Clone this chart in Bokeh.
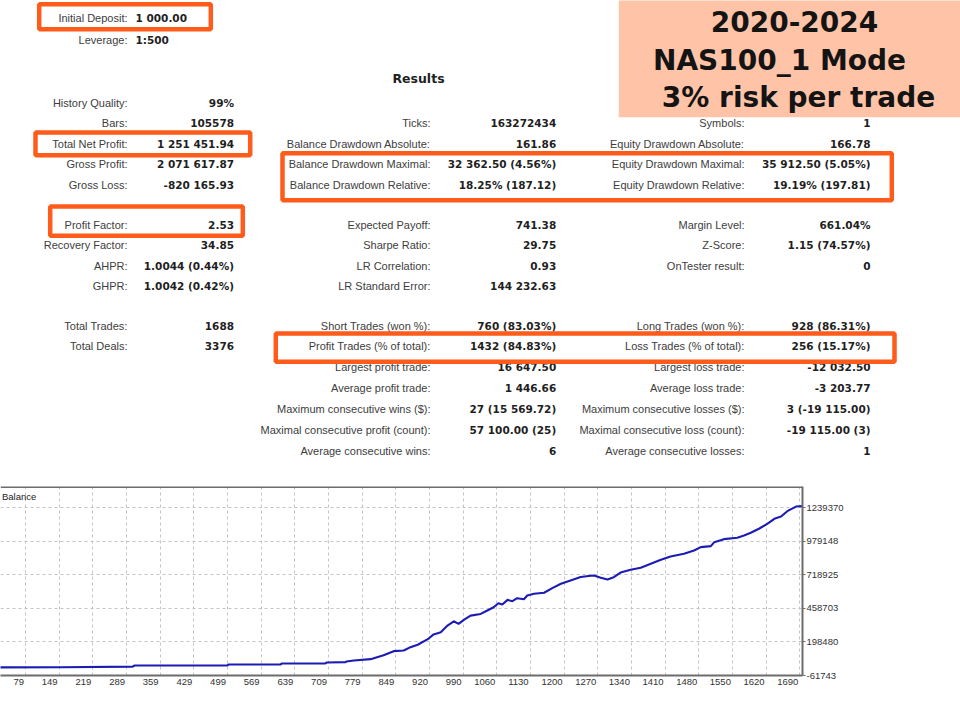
from bokeh.plotting import figure
from bokeh.layouts import column
from bokeh.models import Range1d, FixedTicker, Label, Span
from bokeh.core.properties import value
from bokeh.embed import file_html
from bokeh.resources import INLINE

# ---------------- data ----------------
title_lines = ["2020-2024", "NAS100_1 Mode", "3% risk per trade"]

header_labels = ["Initial Deposit:", "Leverage:"]
header_values = ["1 000.00", "1:500"]

results_title = "Results"

c1a_labels = ["History Quality:", "Bars:", "Total Net Profit:", "Gross Profit:", "Gross Loss:"]
c1a_values = ["99%", "105578", "1 251 451.94", "2 071 617.87", "-820 165.93"]
c2a_labels = ["Ticks:", "Balance Drawdown Absolute:", "Balance Drawdown Maximal:", "Balance Drawdown Relative:"]
c2a_values = ["163272434", "161.86", "32 362.50 (4.56%)", "18.25% (187.12)"]
c3a_labels = ["Symbols:", "Equity Drawdown Absolute:", "Equity Drawdown Maximal:", "Equity Drawdown Relative:"]
c3a_values = ["1", "166.78", "35 912.50 (5.05%)", "19.19% (197.81)"]

c1b_labels = ["Profit Factor:", "Recovery Factor:", "AHPR:", "GHPR:"]
c1b_values = ["2.53", "34.85", "1.0044 (0.44%)", "1.0042 (0.42%)"]
c2b_labels = ["Expected Payoff:", "Sharpe Ratio:", "LR Correlation:", "LR Standard Error:"]
c2b_values = ["741.38", "29.75", "0.93", "144 232.63"]
c3b_labels = ["Margin Level:", "Z-Score:", "OnTester result:"]
c3b_values = ["661.04%", "1.15 (74.57%)", "0"]

c1c_labels = ["Total Trades:", "Total Deals:"]
c1c_values = ["1688", "3376"]
c2c_labels = ["Short Trades (won %):", "Profit Trades (% of total):", "Largest profit trade:",
              "Average profit trade:", "Maximum consecutive wins ($):",
              "Maximal consecutive profit (count):", "Average consecutive wins:"]
c2c_values = ["760 (83.03%)", "1432 (84.83%)", "16 647.50", "1 446.66", "27 (15 569.72)",
              "57 100.00 (25)", "6"]
c3c_labels = ["Long Trades (won %):", "Loss Trades (% of total):", "Largest loss trade:",
              "Average loss trade:", "Maximum consecutive losses ($):",
              "Maximal consecutive loss (count):", "Average consecutive losses:"]
c3c_values = ["928 (86.31%)", "256 (15.17%)", "-12 032.50", "-3 203.77", "3 (-19 115.00)",
              "-19 115.00 (3)", "1"]

# balance curve (trade number, balance)
trade_no = [0, 152, 302, 306, 499, 502, 610, 612, 703, 706, 745, 747, 762, 797, 824, 845, 866,
            880, 895, 916, 928, 943, 957, 970, 980, 991, 1005, 1026, 1040, 1053, 1063, 1071,
            1082, 1092, 1102, 1116, 1123, 1137, 1158, 1175, 1193, 1213, 1234, 1255, 1262, 1276,
            1290, 1303, 1317, 1338, 1359, 1380, 1401, 1421, 1449, 1470, 1484, 1505, 1512, 1532,
            1560, 1574, 1588, 1605, 1623, 1637, 1651, 1664, 1682, 1696]
balance = [1000, 2500, 7000, 16000, 16500, 23600, 24500, 31400, 32000, 39100, 42000, 46900,
           54600, 65000, 96000, 127000, 132000, 158000, 177000, 220000, 257000, 274000, 326000,
           359000, 339000, 370000, 403000, 416000, 443000, 468000, 499000, 489000, 525000,
           515000, 538000, 530000, 559000, 572000, 580000, 616000, 650000, 676000, 702000,
           712000, 714000, 696000, 683000, 701000, 737000, 758000, 774000, 805000, 836000,
           862000, 883000, 908000, 934000, 942000, 973000, 996000, 1007000, 1025000, 1046000,
           1077000, 1116000, 1154000, 1172000, 1213000, 1249000, 1252452]

x_tick_labels = ["79", "149", "219", "289", "359", "429", "499", "569", "639", "709", "779",
                 "849", "920", "990", "1060", "1130", "1200", "1270", "1340", "1410", "1480",
                 "1550", "1620", "1690"]
y_tick_values = [-61743, 198480, 458703, 718925, 979148, 1239370]

# ---------------- styles ----------------
LABEL_FONT_NAME = "Liberation Sans"
VALUE_FONT_NAME = "DejaVu Sans"
LABEL_FONT = value(LABEL_FONT_NAME)
VALUE_FONT = value(VALUE_FONT_NAME)
LABEL_COLOR = "#3d3d3d"
VALUE_COLOR = "#1f1f1f"
ORANGE = "#ff5b1a"
FRAME_GRAY = "#6c6c6c"

# ---------------- top (report) figure ----------------
top = figure(frame_width=960, frame_height=480, x_range=Range1d(0, 960), y_range=Range1d(480, 0),
             x_axis_location=None, y_axis_location=None, toolbar_location=None,
             output_backend="svg", min_border=0)
top.grid.visible = False
top.outline_line_color = None
top.background_fill_color = "white"
top.border_fill_color = "white"

# title box
top.quad(left=[618.3], right=[970], top=[-5], bottom=[116.7], fill_color="#ffc4a7", line_color=None)
top.text(x=[794, 779, 798], y=[21, 60, 97], text=title_lines, text_font=VALUE_FONT,
         text_font_style="bold", text_font_size=value("28px"), text_align="center",
         text_baseline="middle", text_color="#141414")

lx = [127, 430, 744]
vx = [233.5, 555.7, 870]

labels_x, labels_y, labels_t = [], [], []
values_x, values_y, values_t = [], [], []

def add_block(cols, y0, dy, offsets):
    for ci, (labs, vals) in enumerate(cols):
        for i, (lab, val) in enumerate(zip(labs, vals)):
            yy = y0 + dy * (i + offsets[ci])
            labels_x.append(lx[ci]); labels_y.append(yy); labels_t.append(lab)
            values_x.append(vx[ci]); values_y.append(yy); values_t.append(val)

add_block([(c1a_labels, c1a_values), (c2a_labels, c2a_values), (c3a_labels, c3a_values)],
          102, 20.6, [0, 1, 1])
add_block([(c1b_labels, c1b_values), (c2b_labels, c2b_values), (c3b_labels, c3b_values)],
          224, 20.65, [0, 0, 0])
add_block([(c1c_labels, c1c_values), (c2c_labels, c2c_values), (c3c_labels, c3c_values)],
          325, 20.95, [0, 0, 0])

top.text(x=labels_x, y=labels_y, text=labels_t, text_font=LABEL_FONT,
         text_font_size=value("11px"), text_align="right", text_baseline="middle",
         text_color=LABEL_COLOR)
top.text(x=values_x, y=values_y, text=values_t, text_font=VALUE_FONT, text_font_style="bold",
         text_font_size=value("10.5px"), text_align="right", text_baseline="middle",
         text_color=VALUE_COLOR)

# header
top.text(x=[127, 127], y=[17.3, 39], text=header_labels, text_font=LABEL_FONT,
         text_font_size=value("11px"), text_align="right", text_baseline="middle",
         text_color=LABEL_COLOR)
top.text(x=[135, 135], y=[17.3, 39], text=header_values, text_font=VALUE_FONT,
         text_font_style="bold", text_font_size=value("10.5px"), text_align="left",
         text_baseline="middle", text_color=VALUE_COLOR)
top.text(x=[418], y=[78], text=[results_title], text_font=VALUE_FONT, text_font_style="bold",
         text_font_size=value("12.5px"), text_align="center", text_baseline="middle",
         text_color=VALUE_COLOR)

# highlight boxes
bl = [38.7, 35, 49.7, 282, 275.3]
br = [210.3, 249.7, 242.3, 891.3, 894]
bt = [3.7, 132, 206, 152.7, 333]
bb = [28.7, 154.7, 235.3, 199.7, 361.3]
top.quad(left=bl, right=br, top=bt, bottom=bb, fill_color=None, line_color=ORANGE,
         line_width=4.5)

# ---------------- balance chart ----------------
n_ticks = len(x_tick_labels)
t0, t1 = int(x_tick_labels[0]), int(x_tick_labels[-1])
step = (t1 - t0) / (n_ticks - 1)
x_tick_pos = [t0 + step * k for k in range(n_ticks)]
ystep = y_tick_values[1] - y_tick_values[0]
PX_PER_STEP = 33.65          # pixel width of one x grid interval

x_start, x_end = t0 - step * 25 / PX_PER_STEP, t1 + step * 2.7 / PX_PER_STEP
y_start, y_end = y_tick_values[0], y_tick_values[-1] + ystep * 0.635

bal = figure(frame_width=802, frame_height=189,
             x_range=Range1d(x_start, x_end), y_range=Range1d(y_start, y_end),
             y_axis_location="right", toolbar_location=None, output_backend="svg",
             min_border_left=0, min_border_top=6, min_border_bottom=43, min_border_right=158)
bal.background_fill_color = "white"
bal.border_fill_color = "white"
bal.line(trade_no, balance, line_color="#1c1cb4", line_width=2.1)

# x labels sit right-aligned just left of their grid line
digit_px = 5.3
label_pos = [p - (1.5 + len(l) * digit_px / 2) * step / PX_PER_STEP
             for p, l in zip(x_tick_pos, x_tick_labels)]
bal.xaxis.ticker = FixedTicker(ticks=label_pos)
bal.xaxis.major_label_overrides = {p: l for p, l in zip(label_pos, x_tick_labels)}
bal.yaxis.ticker = FixedTicker(ticks=y_tick_values)
bal.yaxis.major_label_overrides = {v: str(v) for v in y_tick_values}
bal.xgrid.ticker = FixedTicker(ticks=x_tick_pos)
bal.ygrid.ticker = FixedTicker(ticks=y_tick_values)
bal.grid.grid_line_color = "#c4c4c4"
bal.grid.grid_line_dash = "3 3"
bal.grid.grid_line_width = 1

for ax in (bal.xaxis, bal.yaxis):
    ax.axis_line_color = FRAME_GRAY
    ax.axis_line_width = 2
    ax.major_tick_line_color = FRAME_GRAY
    ax.major_tick_out = 3
    ax.major_tick_in = 0
    ax.minor_tick_line_color = None
    ax.major_label_text_font = LABEL_FONT_NAME
    ax.major_label_text_font_size = "9.5px"
    ax.major_label_text_color = "#333333"
bal.yaxis.major_label_standoff = 1
bal.xaxis.major_tick_line_color = None
bal.xaxis.major_tick_out = 0
bal.xaxis.major_label_standoff = 3
bal.outline_line_color = None
bal.add_layout(Span(location=y_end, dimension="width", line_color=FRAME_GRAY, line_width=3))

bal.add_layout(Label(x=x_start + 1.5 * step / PX_PER_STEP,
                     y=y_end - ystep * 9.7 / 33.5,
                     text="Balance", text_align="left", text_baseline="middle",
                     text_font=LABEL_FONT_NAME, text_font_size="9.5px", text_color="#222222"))

layout = column(top, bal, spacing=0)
open("out.html", "w").write(file_html(layout, INLINE))
